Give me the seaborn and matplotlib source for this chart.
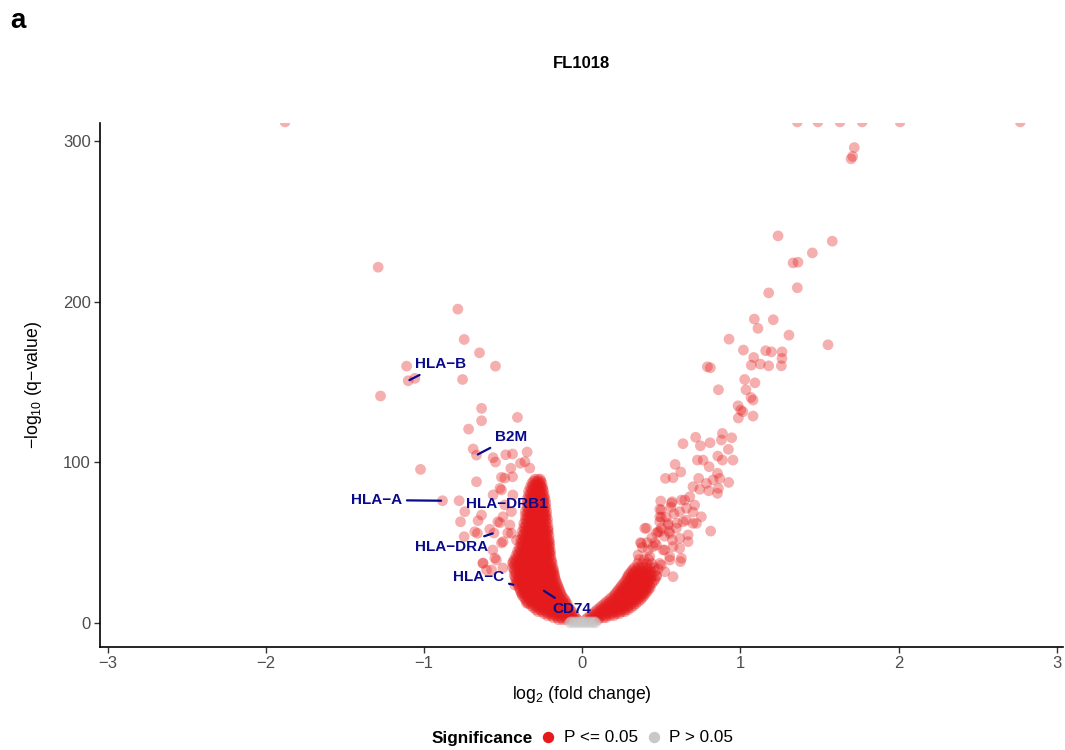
import numpy as np
import pandas as pd
import matplotlib
matplotlib.use("Agg")
import matplotlib.pyplot as plt
from matplotlib.lines import Line2D
import seaborn as sns

sns.set_style("ticks")
plt.rcParams["font.family"] = ["Liberation Sans", "DejaVu Sans"]
plt.rcParams["mathtext.fontset"] = "custom"
plt.rcParams["mathtext.rm"] = "Liberation Sans"
plt.rcParams["mathtext.it"] = "Liberation Sans:italic"
plt.rcParams["mathtext.bf"] = "Liberation Sans:bold"
plt.rcParams["text.color"] = "black"
plt.rcParams["axes.labelcolor"] = "black"

# ---------------- data (FL1018) ----------------
# dense lower-left arm: (-log10 q, [log2 fc ...]) rows
left_core = [
    (2.0, [-0.15, -0.125, -0.10, -0.075, -0.05, -0.03]),
    (3.25, [-0.183, -0.158, -0.133, -0.108, -0.083, -0.058, -0.04]),
    (4.5, [-0.22, -0.195, -0.17, -0.145, -0.12, -0.095, -0.07, -0.05]),
    (5.75, [-0.243, -0.218, -0.193, -0.168, -0.143, -0.118, -0.093, -0.068]),
    (7.0, [-0.28, -0.255, -0.23, -0.205, -0.18, -0.155, -0.13, -0.105, -0.085, -0.065]),
    (8.25, [-0.293, -0.268, -0.243, -0.218, -0.193, -0.168, -0.143, -0.118, -0.093, -0.075]),
    (9.5, [-0.31, -0.285, -0.26, -0.235, -0.21, -0.185, -0.16, -0.135, -0.11, -0.085]),
    (10.75, [-0.323, -0.298, -0.273, -0.248, -0.223, -0.198, -0.173, -0.148, -0.123, -0.098]),
    (12.0, [-0.34, -0.315, -0.29, -0.265, -0.24, -0.215, -0.19, -0.165, -0.14, -0.115, -0.095]),
    (13.25, [-0.348, -0.323, -0.298, -0.273, -0.248, -0.223, -0.198, -0.173, -0.148, -0.123, -0.105]),
    (14.5, [-0.36, -0.335, -0.31, -0.285, -0.26, -0.235, -0.21, -0.185, -0.16, -0.135, -0.11]),
    (15.75, [-0.368, -0.343, -0.318, -0.293, -0.268, -0.243, -0.218, -0.193, -0.168, -0.143, -0.12]),
    (17.0, [-0.38, -0.355, -0.33, -0.305, -0.28, -0.255, -0.23, -0.205, -0.18, -0.155, -0.13]),
    (18.25, [-0.383, -0.358, -0.333, -0.308, -0.283, -0.258, -0.233, -0.208, -0.183, -0.158, -0.135]),
    (19.5, [-0.39, -0.365, -0.34, -0.315, -0.29, -0.265, -0.24, -0.215, -0.19, -0.165, -0.14]),
    (20.75, [-0.393, -0.368, -0.343, -0.318, -0.293, -0.268, -0.243, -0.218, -0.193, -0.168, -0.145]),
    (22.0, [-0.40, -0.375, -0.35, -0.325, -0.30, -0.275, -0.25, -0.225, -0.20, -0.175, -0.15]),
    (23.25, [-0.403, -0.378, -0.353, -0.328, -0.303, -0.278, -0.253, -0.228, -0.203, -0.178, -0.155]),
    (24.5, [-0.41, -0.385, -0.36, -0.335, -0.31, -0.285, -0.26, -0.235, -0.21, -0.185, -0.16]),
    (25.75, [-0.413, -0.388, -0.363, -0.338, -0.313, -0.288, -0.263, -0.238, -0.213, -0.188, -0.165]),
    (27.0, [-0.42, -0.395, -0.37, -0.345, -0.32, -0.295, -0.27, -0.245, -0.22, -0.195, -0.17]),
    (28.25, [-0.423, -0.398, -0.373, -0.348, -0.323, -0.298, -0.273, -0.248, -0.223, -0.198, -0.173]),
    (29.5, [-0.43, -0.40, -0.375, -0.35, -0.325, -0.30, -0.275, -0.25, -0.225, -0.20, -0.175]),
    (30.75, [-0.418, -0.388, -0.363, -0.338, -0.313, -0.288, -0.263, -0.238, -0.213, -0.188, -0.178]),
    (32.0, [-0.43, -0.40, -0.375, -0.35, -0.325, -0.30, -0.275, -0.25, -0.225, -0.20, -0.18]),
    (33.25, [-0.428, -0.398, -0.373, -0.348, -0.323, -0.298, -0.273, -0.248, -0.223, -0.198, -0.183]),
    (34.5, [-0.44, -0.41, -0.385, -0.36, -0.335, -0.31, -0.285, -0.26, -0.235, -0.21, -0.185]),
    (35.75, [-0.428, -0.398, -0.373, -0.348, -0.323, -0.298, -0.273, -0.248, -0.223, -0.198]),
    (37.0, [-0.44, -0.41, -0.385, -0.36, -0.335, -0.31, -0.285, -0.26, -0.235, -0.21, -0.19]),
    (38.25, [-0.423, -0.393, -0.368, -0.343, -0.318, -0.293, -0.268, -0.243, -0.218, -0.195]),
    (39.5, [-0.43, -0.40, -0.375, -0.35, -0.325, -0.30, -0.275, -0.25, -0.225, -0.195]),
    (40.75, [-0.413, -0.383, -0.358, -0.333, -0.308, -0.283, -0.258, -0.233, -0.208]),
    (42.0, [-0.42, -0.395, -0.37, -0.345, -0.32, -0.295, -0.27, -0.245, -0.22, -0.20]),
    (43.25, [-0.403, -0.373, -0.348, -0.323, -0.298, -0.273, -0.248, -0.223, -0.205]),
    (44.5, [-0.41, -0.385, -0.36, -0.335, -0.31, -0.285, -0.26, -0.235, -0.21, -0.20]),
    (45.75, [-0.393, -0.363, -0.338, -0.313, -0.288, -0.263, -0.238, -0.213]),
    (47.0, [-0.40, -0.375, -0.35, -0.325, -0.30, -0.275, -0.25, -0.225, -0.205]),
    (48.25, [-0.383, -0.353, -0.328, -0.303, -0.278, -0.253, -0.228, -0.21]),
    (49.5, [-0.39, -0.365, -0.34, -0.315, -0.29, -0.265, -0.24, -0.22, -0.205]),
    (50.75, [-0.378, -0.353, -0.328, -0.303, -0.278, -0.253, -0.228, -0.21]),
    (52.0, [-0.39, -0.365, -0.34, -0.315, -0.29, -0.265, -0.24, -0.21]),
    (53.25, [-0.373, -0.348, -0.323, -0.298, -0.273, -0.248, -0.223]),
    (54.5, [-0.38, -0.355, -0.33, -0.305, -0.28, -0.255, -0.23, -0.21]),
    (55.75, [-0.368, -0.343, -0.318, -0.293, -0.268, -0.243, -0.22]),
    (57.0, [-0.38, -0.355, -0.33, -0.305, -0.28, -0.255, -0.23, -0.215]),
    (58.25, [-0.363, -0.338, -0.313, -0.288, -0.263, -0.238, -0.218]),
    (59.5, [-0.37, -0.345, -0.32, -0.295, -0.27, -0.245, -0.215]),
    (60.75, [-0.358, -0.333, -0.308, -0.283, -0.258, -0.232]),
    (62.0, [-0.37, -0.345, -0.32, -0.295, -0.27, -0.245, -0.22]),
    (63.25, [-0.353, -0.328, -0.303, -0.278, -0.253, -0.23]),
    (64.5, [-0.36, -0.335, -0.31, -0.285, -0.26, -0.24, -0.22]),
    (65.75, [-0.348, -0.323, -0.298, -0.273, -0.25, -0.232]),
    (67.0, [-0.36, -0.335, -0.31, -0.285, -0.26, -0.24, -0.225]),
    (68.25, [-0.348, -0.323, -0.298, -0.273, -0.25, -0.235]),
    (69.5, [-0.36, -0.335, -0.31, -0.285, -0.26, -0.245, -0.225]),
    (70.75, [-0.343, -0.318, -0.293, -0.268, -0.24]),
    (72.0, [-0.35, -0.325, -0.30, -0.275, -0.25, -0.23]),
    (73.25, [-0.338, -0.313, -0.288, -0.263, -0.24]),
    (74.5, [-0.35, -0.325, -0.30, -0.275, -0.25, -0.23]),
    (75.75, [-0.338, -0.313, -0.288, -0.263, -0.242]),
    (77.0, [-0.35, -0.325, -0.30, -0.275, -0.25, -0.235]),
    (78.25, [-0.333, -0.308, -0.283, -0.258, -0.242]),
    (79.5, [-0.34, -0.315, -0.29, -0.265, -0.24]),
    (80.75, [-0.328, -0.303, -0.278, -0.252]),
    (82.0, [-0.34, -0.315, -0.29, -0.265, -0.245]),
    (83.25, [-0.323, -0.298, -0.273, -0.25]),
    (84.5, [-0.33, -0.305, -0.28, -0.26, -0.25]),
    (85.75, [-0.313, -0.288, -0.265]),
    (87.0, [-0.32, -0.295, -0.27, -0.255]),
    (88.25, [-0.308, -0.285, -0.262]),
    (89.5, [-0.30, -0.28, -0.265]),
]

# dense lower-right arm
right_core = [
    (2.0, [0.02, 0.045, 0.07, 0.10]),
    (3.25, [0.033, 0.058, 0.083, 0.108, 0.133, 0.15]),
    (4.5, [0.05, 0.075, 0.10, 0.125, 0.15, 0.175, 0.20]),
    (5.75, [0.063, 0.088, 0.113, 0.138, 0.163, 0.188, 0.213, 0.235]),
    (7.0, [0.08, 0.105, 0.13, 0.155, 0.18, 0.205, 0.23, 0.25, 0.27]),
    (8.25, [0.093, 0.118, 0.143, 0.168, 0.193, 0.218, 0.243, 0.268, 0.29]),
    (9.5, [0.11, 0.135, 0.16, 0.185, 0.21, 0.235, 0.26, 0.285, 0.31]),
    (10.75, [0.123, 0.148, 0.173, 0.198, 0.223, 0.248, 0.273, 0.298, 0.325]),
    (12.0, [0.14, 0.165, 0.19, 0.215, 0.24, 0.265, 0.29, 0.315, 0.34]),
    (13.25, [0.153, 0.178, 0.203, 0.228, 0.253, 0.278, 0.303, 0.328, 0.355]),
    (14.5, [0.17, 0.195, 0.22, 0.245, 0.27, 0.295, 0.32, 0.345, 0.37]),
    (15.75, [0.183, 0.208, 0.233, 0.258, 0.283, 0.308, 0.333, 0.358, 0.38]),
    (17.0, [0.20, 0.225, 0.25, 0.275, 0.30, 0.325, 0.35, 0.37, 0.39]),
    (18.25, [0.208, 0.233, 0.258, 0.283, 0.308, 0.333, 0.358, 0.383, 0.40]),
    (19.5, [0.22, 0.245, 0.27, 0.295, 0.32, 0.345, 0.37, 0.39, 0.41]),
    (20.75, [0.228, 0.253, 0.278, 0.303, 0.328, 0.353, 0.378, 0.403, 0.42]),
    (22.0, [0.24, 0.265, 0.29, 0.315, 0.34, 0.365, 0.39, 0.41, 0.43]),
    (23.25, [0.248, 0.273, 0.298, 0.323, 0.348, 0.373, 0.398, 0.425]),
    (24.5, [0.26, 0.285, 0.31, 0.335, 0.36, 0.385, 0.41, 0.44]),
    (25.75, [0.268, 0.293, 0.318, 0.343, 0.368, 0.393, 0.418, 0.45]),
    (27.0, [0.28, 0.305, 0.33, 0.355, 0.38, 0.405, 0.43, 0.46]),
    (28.25, [0.283, 0.308, 0.333, 0.358, 0.383, 0.408, 0.433]),
    (29.5, [0.29, 0.315, 0.34, 0.365, 0.39, 0.415, 0.44, 0.47]),
    (30.75, [0.298, 0.323, 0.348, 0.373, 0.398, 0.423]),
    (32.0, [0.31, 0.335, 0.36, 0.385, 0.41, 0.435, 0.46]),
    (33.25, [0.318, 0.343, 0.368, 0.393, 0.418]),
    (34.5, [0.33, 0.355, 0.38, 0.405, 0.43, 0.455]),
    (37.0, [0.35, 0.38, 0.41, 0.44]),
    (39.5, [0.36, 0.39, 0.42]),
]

# scattered down-regulated genes
down_x = [-0.747, -0.650, -0.549, -1.111, -1.059, -0.757, -1.276, -0.637, -0.637, -0.410,
          -0.719, -0.690, -0.564, -0.549, -0.484, -0.441, -0.349, -0.391, -0.452, -1.023,
          -0.511, -0.441, -0.521, -0.779, -0.564, -0.743, -0.770, -0.659, -0.637, -0.521,
          -0.585, -0.663, -0.747, -0.501, -0.448, -0.543, -0.627, -0.574, -0.501, -0.363,
          -1.291, -0.787, -1.880, -0.680, -0.534, -0.458, -0.566, -0.511, -0.629, -0.553,
          -0.606, -0.502, -0.439, -0.669, -0.490, -0.511, -0.439, -0.332, -0.448, -0.471,
          -0.416, -0.406, -0.376, -0.353]
down_y = [176.5, 168.2, 159.9, 159.9, 152.3, 151.6, 141.3, 133.6, 125.9, 128.0,
          120.7, 108.3, 102.9, 100.2, 104.7, 105.2, 106.4, 99.4, 96.3, 95.6,
          90.7, 91.0, 83.8, 76.1, 79.7, 69.3, 63.0, 63.7, 67.2, 62.4,
          58.3, 55.8, 53.7, 50.6, 55.8, 39.2, 37.1, 33.0, 66.1, 100.4,
          221.5, 195.4, 312.0, 56.8, 63.0, 61.0, 45.4, 49.8, 37.3, 40.4,
          33.0, 34.2, 38.1, 87.9, 90.2, 82.8, 79.7, 96.4, 69.3, 56.0,
          51.6, 26.8, 18.7, 12.4]

# scattered up-regulated genes
up_x = [1.238, 1.581, 1.455, 1.333, 1.364, 1.360, 1.179, 1.088, 1.208, 1.111,
        1.307, 1.554, 0.928, 1.019, 1.160, 1.196, 1.263, 1.084, 1.263, 1.069,
        1.126, 1.179, 1.259, 0.791, 0.810, 1.027, 1.092, 0.861, 1.035, 1.067,
        1.080, 0.985, 1.002, 1.016, 1.080, 0.987, 0.637, 0.717, 0.808, 0.886,
        0.945, 0.747, 0.880, 0.924, 0.857, 0.886, 0.953, 0.728, 0.764, 0.587,
        0.623, 0.526, 0.574, 0.802, 0.855, 0.869, 0.926, 0.827, 0.785, 0.861,
        0.812, 0.736, 0.700, 0.743, 0.800, 0.855, 0.496, 0.490, 0.568, 0.627,
        0.680, 0.500, 0.395, 0.616, 0.659, 0.711, 0.753, 0.637, 0.700, 0.669,
        0.621, 0.490, 0.543, 0.570, 0.469, 0.416, 0.522, 0.616, 0.553, 0.368,
        1.360, 1.490, 1.630, 1.770, 2.010, 2.770, 1.720, 1.710, 1.700,
        0.38, 0.41, 0.44, 0.47, 0.50, 0.46, 0.52, 0.55, 0.49, 0.53, 0.58, 0.56, 0.60,
        0.564, 0.500, 0.648, 0.406, 0.490, 0.543, 0.595, 0.659, 0.700, 0.722, 0.479,
        0.553, 0.616, 0.669, 0.374, 0.448, 0.511, 0.574, 0.627, 0.553, 0.490, 0.427,
        0.353, 0.522, 0.469, 0.406, 0.574, 0.480, 0.500]
up_y = [241.0, 237.7, 230.4, 224.2, 224.6, 208.7, 205.5, 189.2, 188.8, 183.4,
        179.2, 173.2, 176.7, 169.9, 169.5, 168.8, 168.8, 165.3, 164.7, 160.5,
        161.2, 160.1, 160.1, 159.5, 158.9, 151.6, 149.5, 145.2, 145.2, 140.4,
        138.8, 135.2, 132.5, 131.5, 128.8, 127.6, 111.6, 115.6, 112.2, 118.0,
        115.3, 110.3, 113.9, 108.1, 103.9, 101.4, 101.4, 101.4, 101.4, 98.7,
        94.0, 90.0, 90.4, 97.3, 93.2, 90.0, 87.5, 89.0, 86.9, 83.8,
        57.2, 90.0, 84.8, 83.2, 82.3, 80.7, 75.9, 70.8, 75.5, 76.5,
        78.6, 65.8, 58.9, 69.3, 71.4, 73.4, 66.1, 63.0, 62.0, 54.8,
        38.2, 56.8, 61.0, 51.6, 48.5, 45.4, 45.4, 46.5, 41.3, 50.0,
        312.0, 312.0, 312.0, 312.0, 312.0, 312.0, 296.0, 290.5, 289.0,
        47.0, 50.0, 53.0, 56.0, 59.0, 50.0, 54.0, 57.0, 63.0, 66.0, 68.0, 72.0, 62.0,
        74.5, 70.3, 76.5, 59.0, 66.0, 62.0, 59.0, 64.0, 69.0, 62.0, 56.8,
        55.8, 52.7, 50.6, 49.6, 47.5, 45.4, 47.5, 40.3, 39.2, 37.1, 41.3,
        42.3, 31.9, 28.8, 26.8, 28.8, 33.5, 36.0]

# non-significant genes around the origin
ns_core = [
    (0.0, [-0.08, -0.055, -0.03, -0.005, 0.02, 0.045, 0.07, 0.085]),
    (0.4, [-0.075, -0.05, -0.025, 0.0, 0.025, 0.05, 0.075]),
    (0.8, [-0.07, -0.045, -0.02, 0.005, 0.03, 0.055, 0.08]),
]

# labelled genes
gene_names = ["HLA−B", "B2M", "HLA−A", "HLA−DRB1", "HLA−DRA", "HLA−C", "CD74"]
gene_x = [-1.101, -0.669, -0.884, -0.490, -0.558, -0.427, -0.250]
gene_y = [150.8, 104.5, 76.1, 73.5, 56.0, 23.6, 20.5]
# label positions (repelled)
label_x = [-0.894, -0.452, -1.300, -0.477, -0.825, -0.654, -0.066]
label_y = [161.2, 115.7, 76.5, 74.0, 47.3, 28.6, 8.7]

sig_levels = ["P <= 0.05", "P > 0.05"]
sig_colors = {"P <= 0.05": "#E41A1C", "P > 0.05": "#C8C8C8"}

# ---------------- build table ----------------
recs = []
for yv, xs in left_core + right_core:
    for xv in xs:
        recs.append((xv, yv, sig_levels[0]))
for xv, yv in zip(down_x + up_x + gene_x, down_y + up_y + gene_y):
    recs.append((xv, yv, sig_levels[0]))
for yv, xs in ns_core:
    for xv in xs:
        recs.append((xv, yv, sig_levels[1]))
df = pd.DataFrame(recs, columns=["log2FC", "negLog10Q", "Significance"])

# ---------------- plot ----------------
fig = plt.figure(figsize=(10.65, 7.5), dpi=100)
ax = fig.add_axes([0.0939, 0.1373, 0.9042, 0.6987])

sns.scatterplot(data=df, x="log2FC", y="negLog10Q", hue="Significance",
                palette=sig_colors, s=60, alpha=0.35, linewidth=0,
                legend=False, ax=ax)

for name, gx, gy, tx, ty in zip(gene_names, gene_x, gene_y, label_x, label_y):
    if name == "HLA−DRB1":
        ax.text(tx, ty, name, ha="center", va="center", fontsize=11,
                fontweight="bold", color="#0A0A8C")
    else:
        ax.annotate(name, xy=(gx, gy), xytext=(tx, ty), ha="center", va="center",
                    fontsize=11, fontweight="bold", color="#0A0A8C",
                    arrowprops=dict(arrowstyle="-", color="#0A0A8C", lw=1.6,
                                    shrinkA=1, shrinkB=1))

ax.set_xlim(-3.05, 3.04)
ax.set_ylim(-15, 311.3)
ax.set_xticks([-3, -2, -1, 0, 1, 2, 3])
ax.set_yticks([0, 100, 200, 300])
sns.despine(ax=ax)
for sp in ["left", "bottom"]:
    ax.spines[sp].set_linewidth(1.2)
    ax.spines[sp].set_color("black")
ax.tick_params(length=4, width=1, color="#333333", labelcolor="#4D4D4D",
               labelsize=12, pad=2.5)

ax.set_xlabel(r"log$_{\mathregular{2}}$ (fold change)", fontsize=12.7, labelpad=9)
ax.set_ylabel(r"−log$_{\mathregular{10}}$ (q−value)", fontsize=12.7)
ax.yaxis.set_label_coords(-0.058, 0.5)

fig.text(0.546, 0.915, "FL1018", ha="center", va="center", fontsize=12, fontweight="bold")
fig.text(0.017, 0.972, "a", ha="center", va="center", fontsize=20, fontweight="bold")

handles = [Line2D([0], [0], marker="o", ls="none", color=sig_colors[k], markersize=7.2)
           for k in sig_levels]
fig.legend(handles, sig_levels, loc="center left", bbox_to_anchor=(0.507, 0.016),
           ncol=2, frameon=False, fontsize=12.3, handlelength=1.0, handletextpad=0.4,
           columnspacing=0.45, borderpad=0, borderaxespad=0)
fig.text(0.5005, 0.016, "Significance", ha="right", va="center", fontsize=12.3,
         fontweight="bold")

fig.savefig("out.png", dpi=100)
